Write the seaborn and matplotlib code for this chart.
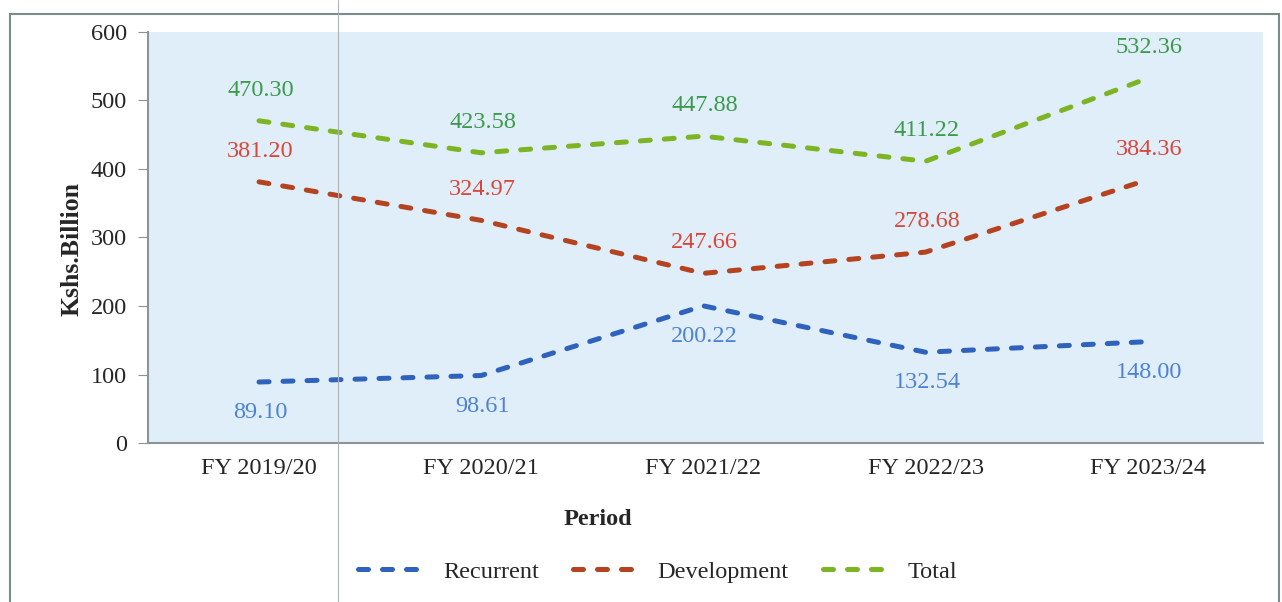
import pandas as pd
import matplotlib.pyplot as plt
import seaborn as sns
from matplotlib.patches import Rectangle
from matplotlib.lines import Line2D

# Données
periods = ["FY 2019/20", "FY 2020/21", "FY 2021/22", "FY 2022/23", "FY 2023/24"]
recurrent = [89.10, 98.61, 200.22, 132.54, 148.00]
development = [381.20, 324.97, 247.66, 278.68, 384.36]
total = [470.30, 423.58, 447.88, 411.22, 532.36]

series_names = ["Recurrent", "Development", "Total"]
line_colors = {"Recurrent": "#2f62bd", "Development": "#b5431f", "Total": "#7db423"}
text_colors = {"Recurrent": "#4f82d3", "Development": "#d9473b", "Total": "#3c9a4c"}

df = pd.DataFrame({
    "Period": periods * 3,
    "value": recurrent + development + total,
    "series": ["Recurrent"] * 5 + ["Development"] * 5 + ["Total"] * 5,
})

sns.set_style("white")
plt.rcParams["font.family"] = ["Liberation Serif", "DejaVu Serif"]

fig = plt.figure(figsize=(12.82, 6.02), dpi=100)
ax = fig.add_axes([0.1154, 0.264, 0.87, 0.683])
ax.set_facecolor("#dfeef9")

dash = (2.0, 2.8)
sns.lineplot(
    data=df, x="Period", y="value", hue="series", style="series",
    palette=line_colors, dashes={s: dash for s in series_names},
    linewidth=3.6, sort=False, legend=False, ax=ax,
)
for line in ax.lines:
    line.set_dash_capstyle("round")

# Étiquettes de valeurs
offsets = {"Recurrent": -22, "Development": 22, "Total": 22}
for name, vals in zip(series_names, [recurrent, development, total]):
    for i, v in enumerate(vals):
        ax.annotate(f"{v:.2f}", (i, v), xytext=(1, offsets[name]), textcoords="offset points",
                    ha="center", va="center", fontsize=17.5, color=text_colors[name])

ax.set_xlim(-0.5, 4.52)
ax.set_ylim(0, 600)
ax.set_yticks(range(0, 601, 100))
ax.set_xticks([-0.5, 0.5, 1.5, 2.5, 3.5], minor=True)
ax.tick_params(axis="x", which="major", length=0, labelsize=17.5, pad=11)
ax.tick_params(axis="x", which="minor", length=5, color="#8a9499", direction="out")
ax.tick_params(axis="y", length=7, color="#8a9499", direction="out", labelsize=17.5,
               left=True, pad=8)
for s in ["top", "right"]:
    ax.spines[s].set_visible(False)
for s in ["left", "bottom"]:
    ax.spines[s].set_color("#8a9499")
    ax.spines[s].set_linewidth(1.5)

ax.set_xlabel("Period", fontsize=17.5, fontweight="bold")
ax.xaxis.set_label_coords(0.403, -0.16)
ax.set_ylabel("Kshs.Billion", fontsize=18.5, fontweight="bold")
ax.yaxis.set_label_coords(-0.058, 0.472)

handles = [Line2D([], [], color=line_colors[s], linewidth=3.6, dashes=dash,
                  dash_capstyle="round") for s in series_names]
fig.legend(handles, series_names, loc="center", bbox_to_anchor=(0.513, 0.05),
           ncol=3, frameon=False, fontsize=17.5, handlelength=2.9,
           handletextpad=0.6, columnspacing=1.4)

# Cadre extérieur et pli du scan
fig.add_artist(Rectangle((10 / 1282, -0.05), 1269 / 1282, 1.05 - 14 / 602,
                         transform=fig.transFigure, fill=False, edgecolor="#7d8a8a",
                         linewidth=1.5))
fig.add_artist(Line2D([338 / 1282, 338 / 1282], [0, 1], transform=fig.transFigure,
                      color="#b0b4b8", linewidth=0.8))

plt.savefig("out.png", dpi=100)
